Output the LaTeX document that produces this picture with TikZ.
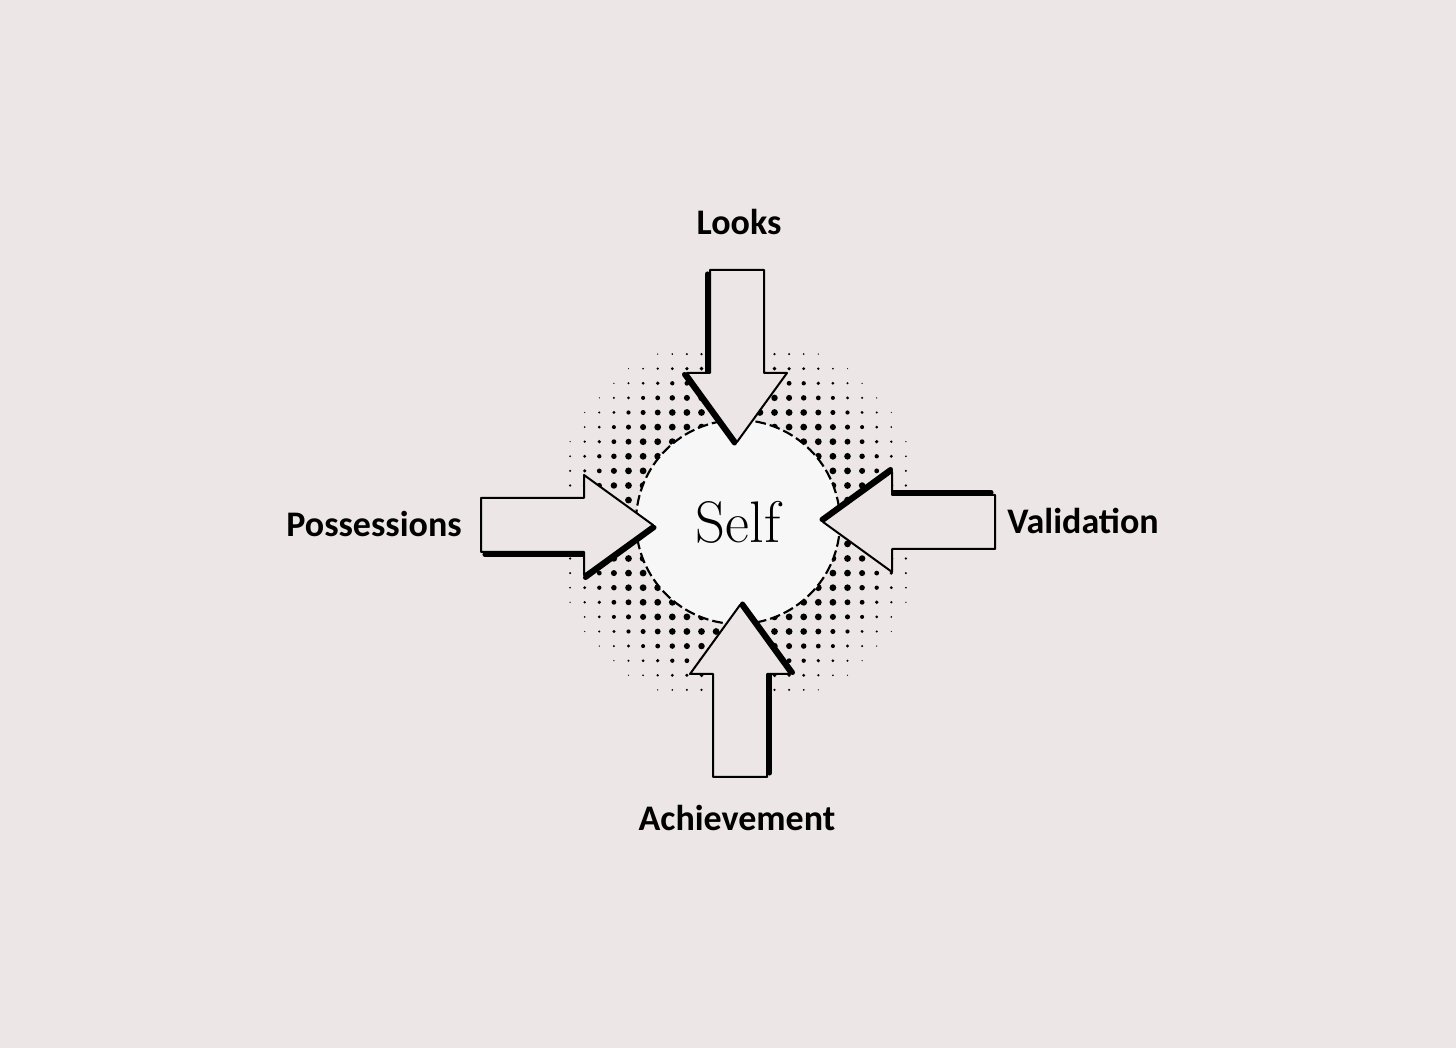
\documentclass[tikz,border=0pt]{standalone}
\usepackage{fontspec}
\setsansfont{Carlito}
\usepackage{tikz}
\usepackage{xcolor}

\definecolor{paper}{HTML}{ECE6E6}
\definecolor{selfwhite}{HTML}{F8F7F7}

\begin{document}
\begin{tikzpicture}[x=0.75pt, y=0.75pt,
    label/.style={font=\sffamily\bfseries\fontsize{27}{32}\selectfont, inner sep=0pt},
    selfcircle/.style={circle, draw, dashed, dash pattern=on 8pt off 3pt, line width=1.6pt,
        fill=selfwhite, minimum size=153pt, inner sep=0pt, font=\rmfamily\fontsize{44}{48}\selectfont},
    inarrow/.pic={
        % thick shadow on the right-hand side
        \draw[line width=3.8pt, line cap=round] (-168,-29.5) -- (-70,-29.5);
        \draw[line width=3.8pt, line cap=round] (-67.5,-52.5) -- (1,-2.5);
        \draw[line width=1.5pt, line join=round, fill=paper]
            (0,0) -- (-69,50) -- (-69,27) -- (-172,27) -- (-172,-27) -- (-69,-27) -- (-69,-50) -- cycle;
    }]

    \fill[paper] (0,0) rectangle (1456,1048);
    \useasboundingbox (0,0) rectangle (1456,1048);

    \coordinate (c) at (738,526);

    % halftone dots round the circle
    \foreach \i in {-12,...,11}{
        \foreach \j in {-12,...,11}{
            \pgfmathsetmacro{\dx}{(\i+0.5)*14.6}
            \pgfmathsetmacro{\dy}{(\j+0.5)*14.6}
            \pgfmathsetmacro{\dr}{min(3.4, 3.4-(veclen(\dx,\dy)-126)/22)}
            \ifdim\dr pt>0.4pt
                \fill (c) ++(\dx,\dy) circle[radius=\dr];
            \fi
        }
    }

    \node[selfcircle] (self) at (c) {Self};

    \pic[rotate=-90] (looksarrow) at (737,606) {inarrow};
    \pic (possarrow) at (653,523) {inarrow};
    \pic[rotate=180] (validarrow) at (823,526) {inarrow};
    \pic[rotate=90] (achievearrow) at (740,443) {inarrow};

    \node[label] (looks) at (739,826) {Looks};
    \node[label] (possessions) at (374,524) {Possessions};
    \node[label] (validation) at (1083,527) {Validation};
    \node[label] (achievement) at (737,230) {Achievement};
\end{tikzpicture}
\end{document}
